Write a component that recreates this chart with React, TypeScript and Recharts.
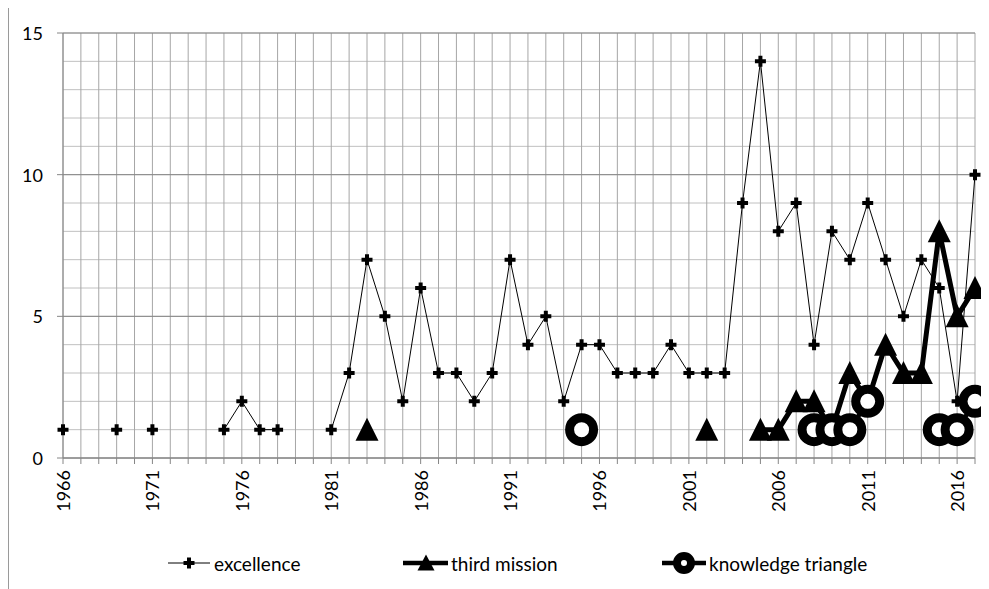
import React from "react";
import {
  LineChart,
  Line,
  XAxis,
  YAxis,
  CartesianGrid,
  ReferenceLine,
  Legend,
} from "recharts";

const years = [
  1966, 1967, 1968, 1969, 1970, 1971, 1972, 1973, 1974, 1975, 1976, 1977, 1978,
  1979, 1980, 1981, 1982, 1983, 1984, 1985, 1986, 1987, 1988, 1989, 1990, 1991,
  1992, 1993, 1994, 1995, 1996, 1997, 1998, 1999, 2000, 2001, 2002, 2003, 2004,
  2005, 2006, 2007, 2008, 2009, 2010, 2011, 2012, 2013, 2014, 2015, 2016, 2017,
];

// one value per year, null = no point that year
const excellence = [
  1, null, null, 1, null, 1, null, null, null, 1, 2, 1, 1,
  null, null, 1, 3, 7, 5, 2, 6, 3, 3, 2, 3, 7,
  4, 5, 2, 4, 4, 3, 3, 3, 4, 3, 3, 3, 9,
  14, 8, 9, 4, 8, 7, 9, 7, 5, 7, 6, 2, 10,
];

const thirdMission = [
  null, null, null, null, null, null, null, null, null, null, null, null, null,
  null, null, null, null, 1, null, null, null, null, null, null, null, null,
  null, null, null, null, null, null, null, null, null, null, 1, null, null,
  1, 1, 2, 2, 1, 3, 2, 4, 3, 3, 8, 5, 6,
];

const knowledgeTriangle = [
  null, null, null, null, null, null, null, null, null, null, null, null, null,
  null, null, null, null, null, null, null, null, null, null, null, null, null,
  null, null, null, 1, null, null, null, null, null, null, null, null, null,
  null, null, null, 1, 1, 1, 2, null, null, null, 1, 1, 2,
];

const xLabels = [1966, 1971, 1976, 1981, 1986, 1991, 1996, 2001, 2006, 2011, 2016];
const yTicks = [0, 1, 2, 3, 4, 5, 6, 7, 8, 9, 10, 11, 12, 13, 14, 15];
const yLabels = [0, 5, 10, 15];

const data = years.map((year, i) => ({
  year,
  excellence: excellence[i],
  "third mission": thirdMission[i],
  "knowledge triangle": knowledgeTriangle[i],
}));

const FONT = "Lato, 'Open Sans', sans-serif";
const MAJOR = "#868686";
const MINOR = "#c0c0c0";
const VGRID = "#a6a6a6";

function plusShape(cx: number, cy: number) {
  const a = 5.5;
  const t = 2;
  return (
    <path
      d={`M${cx - t},${cy - a}h${2 * t}v${a - t}h${a - t}v${2 * t}h${t - a}v${a - t}h${-2 * t}v${t - a}h${t - a}v${-2 * t}h${a - t}z`}
      fill="#000"
    />
  );
}

function triangleShape(cx: number, cy: number, w: number, h: number) {
  return (
    <path
      d={`M${cx},${cy - h / 2 - 1}L${cx + w / 2},${cy + h / 2}L${cx - w / 2},${cy + h / 2}z`}
      fill="#000"
    />
  );
}

function ringShape(cx: number, cy: number, r: number, sw: number) {
  return <circle cx={cx} cy={cy} r={r} fill="#fff" stroke="#000" strokeWidth={sw} />;
}

const PlusDot = (props: any) => {
  const { cx, cy, value, index } = props;
  if (value == null || cy == null) return <g key={"p" + index} />;
  return <g key={"p" + index}>{plusShape(cx, cy)}</g>;
};

const TriDot = (props: any) => {
  const { cx, cy, value, index } = props;
  if (value == null || cy == null) return <g key={"t" + index} />;
  return <g key={"t" + index}>{triangleShape(cx, cy, 23, 22)}</g>;
};

const RingDot = (props: any) => {
  const { cx, cy, value, index } = props;
  if (value == null || cy == null) return <g key={"r" + index} />;
  return <g key={"r" + index}>{ringShape(cx, cy, 12, 9)}</g>;
};

const XTick = (props: any) => {
  const { x, y, payload } = props;
  if (!xLabels.includes(payload.value)) return <g />;
  return (
    <text
      x={x}
      y={y}
      transform={`rotate(-90, ${x}, ${y})`}
      textAnchor="end"
      dominantBaseline="central"
      fontFamily={FONT}
      fontSize={18}
      fill="#000"
    >
      {payload.value}
    </text>
  );
};

const YTick = (props: any) => {
  const { x, y, payload } = props;
  if (!yLabels.includes(payload.value)) return <g />;
  return (
    <g>
      <line x1={x - 6} x2={x} y1={y} y2={y} stroke={MAJOR} />
      <text
        x={x - 20}
        y={y}
        textAnchor="end"
        dominantBaseline="central"
        fontFamily={FONT}
        fontSize={18}
        fill="#000"
      >
        {payload.value}
      </text>
    </g>
  );
};

const renderLegend = () => (
  <svg width={981} height={40} style={{ display: "block" }}>
    <g>
      <line x1={160} x2={202} y1={20} y2={20} stroke="#000" strokeWidth={1} />
      {plusShape(181, 20)}
      <text x={206} y={20} dominantBaseline="central" fontFamily={FONT} fontSize={19} fill="#000">
        excellence
      </text>
    </g>
    <g>
      <line x1={395} x2={440} y1={20} y2={20} stroke="#000" strokeWidth={4.5} />
      {triangleShape(418, 20, 17, 15)}
      <text x={443} y={20} dominantBaseline="central" fontFamily={FONT} fontSize={19} fill="#000">
        third mission
      </text>
    </g>
    <g>
      <line x1={654} x2={698} y1={20} y2={20} stroke="#000" strokeWidth={4.5} />
      {ringShape(676, 20, 7, 8)}
      <text x={701} y={20} dominantBaseline="central" fontFamily={FONT} fontSize={19} fill="#000">
        knowledge triangle
      </text>
    </g>
  </svg>
);

export default function App() {
  return (
    <div style={{ position: "relative", width: 981, height: 581 }}>
      <div
        style={{
          position: "absolute",
          left: 0,
          top: -1,
          width: 981,
          height: 582,
          borderLeft: "1px solid #9a9a9a",
          borderTop: "1px solid #9a9a9a",
          boxSizing: "border-box",
        }}
      />
      <LineChart
        width={981}
        height={581}
        data={data}
        margin={{ top: 25, right: 14, left: 0, bottom: 0 }}
      >
        <CartesianGrid stroke={MINOR} vertical={false} />
        <CartesianGrid stroke={VGRID} horizontal={false} />
        {yLabels.map((v) => (
          <ReferenceLine key={v} y={v} stroke={MAJOR} ifOverflow="extendDomain" />
        ))}
        <XAxis
          dataKey="year"
          interval={0}
          height={131}
          tickSize={6}
          tickMargin={6}
          stroke={MAJOR}
          tickLine={{ stroke: MAJOR }}
          tick={<XTick />}
        />
        <YAxis
          type="number"
          domain={[0, 15]}
          ticks={yTicks}
          interval={0}
          width={55}
          tickSize={0}
          tickMargin={0}
          tickLine={false}
          stroke={MAJOR}
          tick={<YTick />}
        />
        <Legend
          layout="horizontal"
          verticalAlign="middle"
          align="center"
          wrapperStyle={{ top: 535, left: 0, width: 981, height: 40 }}
          content={renderLegend}
        />
        <Line
          dataKey="excellence"
          stroke="#000"
          strokeWidth={1}
          dot={(p: any) => <PlusDot {...p} />}
          activeDot={false}
          isAnimationActive={false}
        />
        <Line
          dataKey="third mission"
          stroke="#000"
          strokeWidth={5}
          dot={(p: any) => <TriDot {...p} />}
          activeDot={false}
          isAnimationActive={false}
        />
        <Line
          dataKey="knowledge triangle"
          stroke="#000"
          strokeWidth={4.5}
          dot={(p: any) => <RingDot {...p} />}
          activeDot={false}
          isAnimationActive={false}
        />
      </LineChart>
    </div>
  );
}
